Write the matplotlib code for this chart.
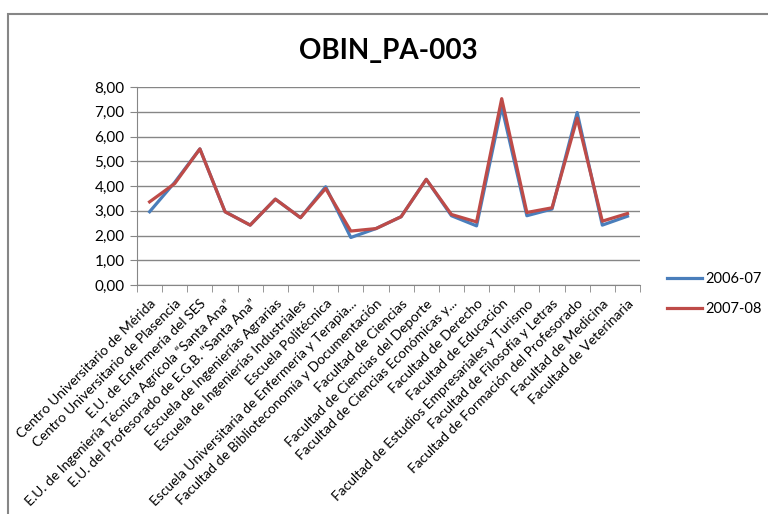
import matplotlib.pyplot as plt
from matplotlib.patches import Rectangle
from matplotlib.ticker import FuncFormatter, MultipleLocator
import numpy as np

# Datos del gráfico
centros = [
    "Centro Universitario de Mérida",
    "Centro Universitario de Plasencia",
    "E.U. de Enfermería del SES",
    "E.U. de Ingeniería Técnica Agrícola “Santa Ana”",
    "E.U. del Profesorado de E.G.B. “Santa Ana”",
    "Escuela de Ingenierías Agrarias",
    "Escuela de Ingenierías Industriales",
    "Escuela Politécnica",
    "Escuela Universitaria de Enfermería y Terapia...",
    "Facultad de Biblioteconomía y Documentación",
    "Facultad de Ciencias",
    "Facultad de Ciencias del Deporte",
    "Facultad de Ciencias Económicas y...",
    "Facultad de Derecho",
    "Facultad de Educación",
    "Facultad de Estudios Empresariales y Turismo",
    "Facultad de Filosofía y Letras",
    "Facultad de Formación del Profesorado",
    "Facultad de Medicina",
    "Facultad de Veterinaria",
]
curso_2006 = [2.96, 4.15, 5.50, 2.96, 2.42, 3.47, 2.72, 3.97, 1.92, 2.28,
              2.76, 4.27, 2.80, 2.39, 7.20, 2.80, 3.07, 6.97, 2.42, 2.78]
curso_2007 = [3.36, 4.10, 5.50, 2.96, 2.42, 3.47, 2.72, 3.90, 2.18, 2.28,
              2.76, 4.27, 2.85, 2.55, 7.53, 2.93, 3.12, 6.74, 2.58, 2.89]

plt.rcParams['font.family'] = ['Lato', 'DejaVu Sans']
GRIS = '#868686'

fig = plt.figure(figsize=(7.68, 5.14), dpi=100)
ax = fig.add_axes([0.1784, 0.4455, 0.655, 0.3852])

x = np.arange(len(centros))
ax.plot(x, curso_2006, color='#4A7EBB', lw=2.3, label='2006-07')
ax.plot(x, curso_2007, color='#BE4B48', lw=2.3, label='2007-08')

ax.set_xlim(-0.5, len(centros) - 0.5)
ax.set_ylim(0, 8)
ax.yaxis.set_major_locator(MultipleLocator(1))
ax.yaxis.set_major_formatter(FuncFormatter(lambda v, p: f"{v:.2f}".replace('.', ',')))
ax.grid(axis='y', color=GRIS, lw=1)
ax.set_axisbelow(True)

# Ejes estilo Excel
for s in ['top', 'right']:
    ax.spines[s].set_visible(False)
for s in ['left', 'bottom']:
    ax.spines[s].set_color(GRIS)
ax.set_xticks(x)
ax.set_xticklabels(centros, rotation=45, ha='right', rotation_mode='anchor', fontsize=10)
ax.set_xticks(np.arange(-0.5, len(centros)), minor=True)
ax.tick_params(axis='x', which='major', length=0, pad=9)
ax.tick_params(axis='x', which='minor', length=5, color=GRIS)
ax.tick_params(axis='y', length=5, color=GRIS, labelsize=11, pad=4)

ax.set_title('OBIN_PA-003', fontsize=20, fontweight='bold', pad=20)

ax.legend(loc='center left', bbox_to_anchor=(0.8685, 0.428), bbox_transform=fig.transFigure,
          frameon=False, fontsize=10.5, handlelength=2.4, handletextpad=0.2,
          labelspacing=1.1, borderpad=0, borderaxespad=0)

# Marco del gráfico
fig.patches.append(Rectangle((0.011, -0.1), 1.2, 0.9728 + 0.1, fill=False,
                             edgecolor=GRIS, lw=1.5, transform=fig.transFigure))

fig.savefig('out.png', dpi=100)
